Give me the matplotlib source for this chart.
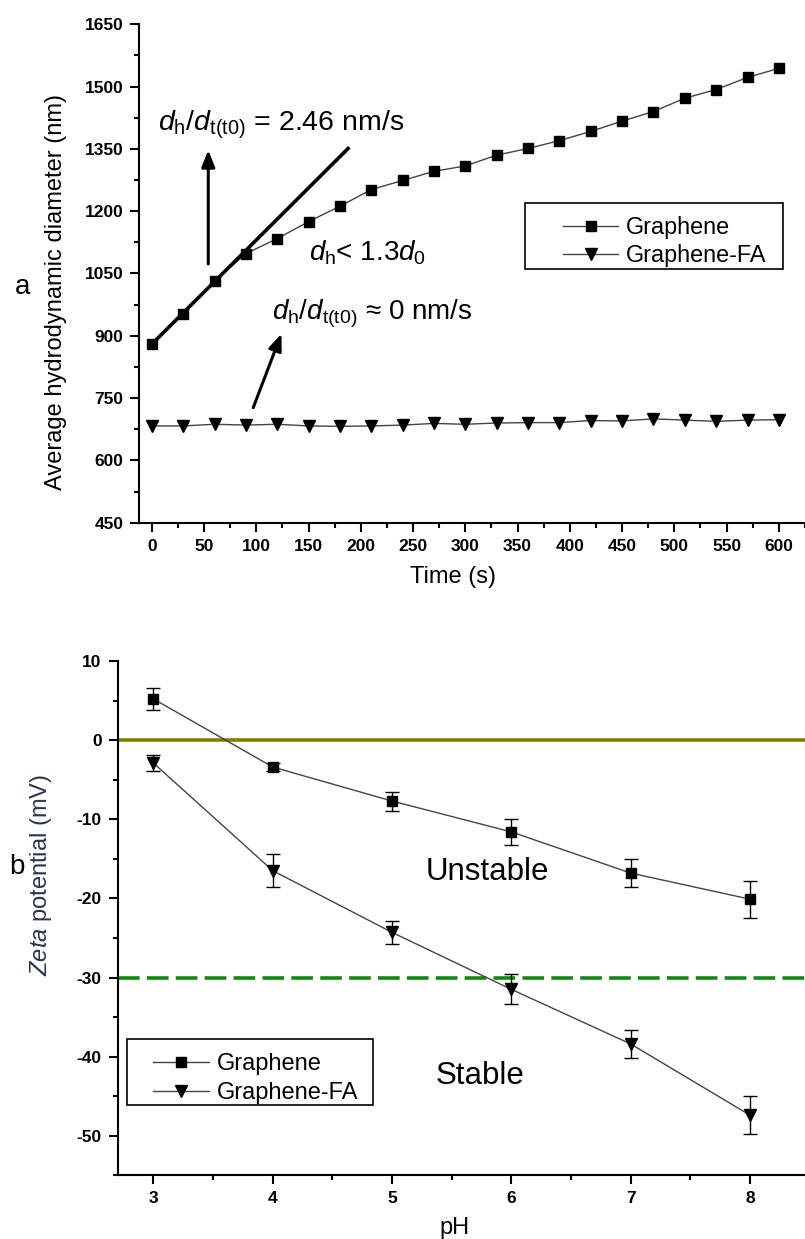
import matplotlib
matplotlib.use("Agg")
import matplotlib.pyplot as plt
from matplotlib.patches import Rectangle
from matplotlib.lines import Line2D
from matplotlib.ticker import MultipleLocator

# panel a: hydrodynamic diameter vs time
time_s = [0, 30, 60, 90, 120, 150, 180, 210, 240, 270, 300,
          330, 360, 390, 420, 450, 480, 510, 540, 570, 600]
graphene_d = [880, 952, 1032, 1098, 1134, 1175, 1212, 1252, 1274, 1296, 1309,
              1335, 1351, 1370, 1392, 1417, 1440, 1472, 1493, 1522, 1544]
graphene_fa_d = [683, 683, 687, 685, 687, 683, 682, 683, 685, 689, 687,
                 690, 691, 691, 696, 695, 700, 697, 694, 697, 698]
# initial slope line (2.46 nm/s)
fit_t = [0, 189]
fit_d = [880, 1354]

# panel b: zeta potential vs pH
ph = [3, 4, 5, 6, 7, 8]
zeta_g = [5.2, -3.4, -7.7, -11.6, -16.8, -20.1]
zeta_g_err = [1.35, 0.5, 1.2, 1.6, 1.8, 2.35]
zeta_fa = [-2.9, -16.5, -24.3, -31.5, -38.4, -47.4]
zeta_fa_err = [1.0, 2.1, 1.5, 1.9, 1.8, 2.4]

plt.rcParams['font.family'] = ['Liberation Sans', 'DejaVu Sans']
plt.rcParams['mathtext.fontset'] = 'custom'
plt.rcParams['mathtext.rm'] = 'Liberation Sans'
plt.rcParams['mathtext.it'] = 'Liberation Sans:italic'
plt.rcParams['mathtext.bf'] = 'Liberation Sans:bold'
plt.rcParams['axes.unicode_minus'] = False

W, H = 805, 1239
fig = plt.figure(figsize=(W / 100, H / 100), dpi=100)


def fx(px):
    return px / W


def fy(py):
    return 1 - py / H


tick_font = ['Liberation Sans Narrow', 'Liberation Sans']


def style(ax):
    for s in ['top', 'right']:
        ax.spines[s].set_visible(False)
    for s in ['left', 'bottom']:
        ax.spines[s].set_linewidth(1.5)
    ax.tick_params(which='major', length=6.5, width=1.5, direction='out', pad=5)
    ax.tick_params(which='minor', length=3.6, width=1.5, direction='out')
    for lab in ax.get_xticklabels() + ax.get_yticklabels():
        lab.set_fontfamily(tick_font)
        lab.set_fontweight('bold')
        lab.set_fontsize(12.5)


line_c = '#444444'
handles = [Line2D([], [], color=line_c, lw=1, marker='s', ms=7, mfc='black', mec='black'),
           Line2D([], [], color=line_c, lw=1, marker='v', ms=8.5, mfc='black', mec='black')]
names = ['Graphene', 'Graphene-FA']

# ---------- panel a ----------
ax1 = fig.add_axes([fx(139.3), fy(522.7), 1 - fx(139.3), fy(24.3) - fy(522.7)])
ax1.plot(time_s, graphene_d, color=line_c, lw=1, marker='s', ms=7,
         mfc='black', mec='black')
ax1.plot(time_s, graphene_fa_d, color=line_c, lw=1, marker='v', ms=8.5,
         mfc='black', mec='black')
ax1.plot(fit_t, fit_d, color='black', lw=2.6, solid_capstyle='butt')
ax1.set_xlim(-12, 625)
ax1.set_ylim(450, 1650)
ax1.xaxis.set_major_locator(MultipleLocator(50))
ax1.xaxis.set_minor_locator(MultipleLocator(25))
ax1.yaxis.set_major_locator(MultipleLocator(150))
ax1.yaxis.set_minor_locator(MultipleLocator(75))
style(ax1)

arrow = dict(arrowstyle='-|>,head_length=1.0,head_width=0.4', lw=2.2, color='black',
             shrinkA=0, shrinkB=0)
ax1.annotate('', xy=(54, 1347), xytext=(54, 1073), arrowprops=arrow)
ax1.annotate('', xy=(124, 905), xytext=(97, 727), arrowprops=arrow)

ax1.text(6, 1394, r'$d_\mathrm{h}/d_\mathrm{t(t0)}$ = 2.46 nm/s', fontsize=20.5)
ax1.text(150, 1082, r'$d_\mathrm{h}$< 1.3$d_{\mathit{0}}$', fontsize=20)
ax1.text(115, 939, r'$d_\mathrm{h}/d_\mathrm{t(t0)}$ ≈ 0 nm/s', fontsize=20)

ax1.legend(handles, names, loc='upper left', bbox_to_anchor=(fx(563), fy(216)),
           bbox_transform=fig.transFigure, frameon=False, borderpad=0, borderaxespad=0,
           handlelength=2.36, handletextpad=0.35, labelspacing=0.22, fontsize=16.8)
fig.add_artist(Rectangle((fx(525), fy(269)), fx(783) - fx(525), fy(203) - fy(269),
                         transform=fig.transFigure, fill=False, ec='black', lw=1.2))

fig.text(fx(56), fy(292), 'Average hydrodynamic diameter (nm)', rotation=90,
         ha='center', va='center', fontsize=17)
fig.text(fx(453), fy(577), 'Time (s)', ha='center', va='center', fontsize=17)
fig.text(fx(23), fy(287), 'a', ha='center', va='center', fontsize=20)

# ---------- panel b ----------
ax2 = fig.add_axes([fx(117.7), fy(1175.4), 1 - fx(117.7), fy(661) - fy(1175.4)])
ax2.axhline(0, color='#808000', lw=2.6, zorder=1)
ax2.axhline(-30, color='#118811', lw=2.6, ls=(0, (6, 2)), zorder=1)
ax2.errorbar(ph, zeta_g, yerr=zeta_g_err, color=line_c, lw=1, marker='s', ms=7,
             mfc='black', mec='black', ecolor='black', elinewidth=1, capsize=5,
             capthick=1, zorder=3)
ax2.errorbar(ph, zeta_fa, yerr=zeta_fa_err, color=line_c, lw=1, marker='v', ms=8.5,
             mfc='black', mec='black', ecolor='black', elinewidth=1, capsize=5,
             capthick=1, zorder=3)
ax2.set_xlim(2.70, 8.46)
ax2.set_ylim(-55, 10)
ax2.xaxis.set_major_locator(MultipleLocator(1))
ax2.xaxis.set_minor_locator(MultipleLocator(0.5))
ax2.yaxis.set_major_locator(MultipleLocator(10))
ax2.yaxis.set_minor_locator(MultipleLocator(5))
style(ax2)

ax2.text(5.80, -16.7, 'Unstable', ha='center', va='center', fontsize=22.5)
ax2.text(5.74, -42.4, 'Stable', ha='center', va='center', fontsize=22.5)

ax2.legend(handles, names, loc='upper left', bbox_to_anchor=(fx(153), fy(1053)),
           bbox_transform=fig.transFigure, frameon=False, borderpad=0, borderaxespad=0,
           handlelength=2.36, handletextpad=0.35, labelspacing=0.3, fontsize=17)
fig.add_artist(Rectangle((fx(127), fy(1105)), fx(373) - fx(127), fy(1039) - fy(1105),
                         transform=fig.transFigure, fill=False, ec='black', lw=1.2))

fig.text(fx(41), fy(875), r'$\mathit{Zeta}$ potential (mV)', rotation=90,
         ha='center', va='center', fontsize=17, color='#2a3550')
fig.text(fx(454), fy(1228), 'pH', ha='center', va='center', fontsize=17)
fig.text(fx(17), fy(867), 'b', ha='center', va='center', fontsize=20)

fig.savefig('out.png', dpi=100)
